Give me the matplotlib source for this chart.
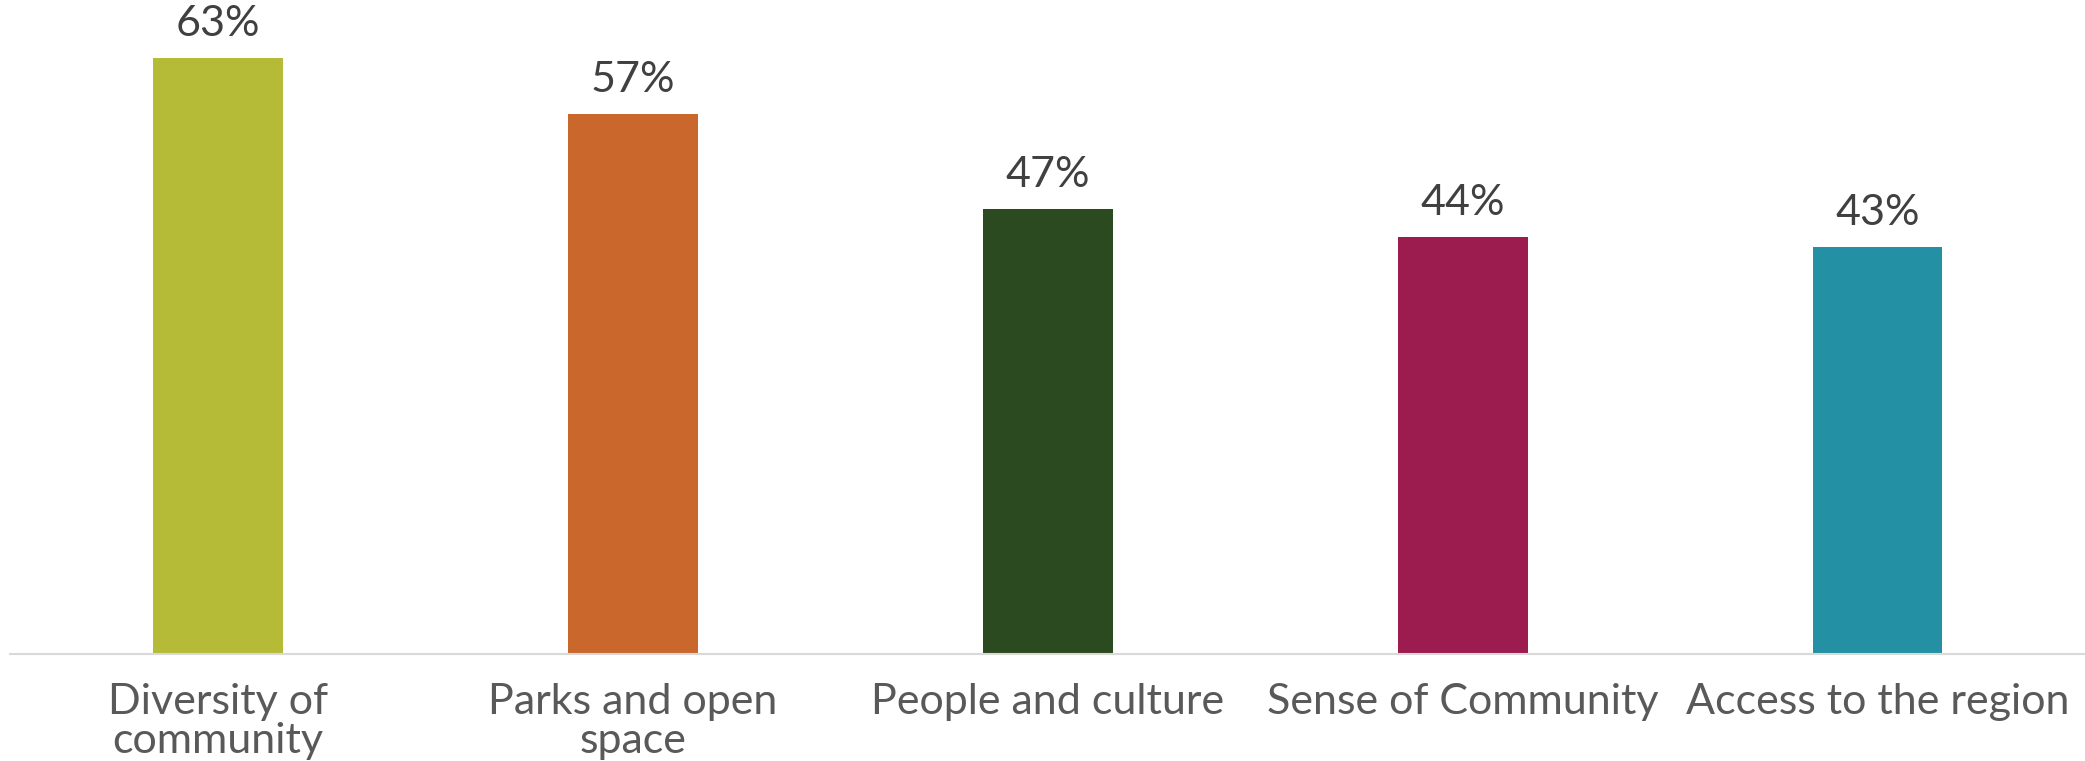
import numpy as np
import matplotlib.pyplot as plt

# Datos
categorias = ['Diversity of\ncommunity', 'Parks and open\nspace', 'People and culture',
              'Sense of Community', 'Access to the region']
valores = [63, 57, 47, 44, 43]
colores = ['#B5BA37', '#C9672D', '#2C4A1F', '#9D1C4F', '#2391A3']

plt.rcParams['font.family'] = ['Lato', 'DejaVu Sans']

fig = plt.figure(figsize=(20.85, 7.61), dpi=100)
ax = fig.add_axes([0.005, 0.141, 0.995, 0.859])

x = np.arange(len(categorias))
barras = ax.bar(x, valores, width=0.313, color=colores)

# Etiquetas de valor
for xi, v in zip(x, valores):
    ax.text(xi, v + 1.6, f'{v}%', ha='center', va='bottom', fontsize=31, color='#404040')

ax.set_xlim(-0.5, len(categorias) - 0.5)
ax.set_ylim(0, 69.1)
ax.set_xticks(x)
ax.set_xticklabels(categorias, fontsize=31, color='#595959', linespacing=1.05)
ax.tick_params(axis='x', length=0, pad=21)
ax.set_yticks([])

for lado in ['top', 'right', 'left']:
    ax.spines[lado].set_visible(False)
ax.spines['bottom'].set_color('#D9D9D9')
ax.spines['bottom'].set_linewidth(1.5)

fig.savefig('out.png', dpi=100)
